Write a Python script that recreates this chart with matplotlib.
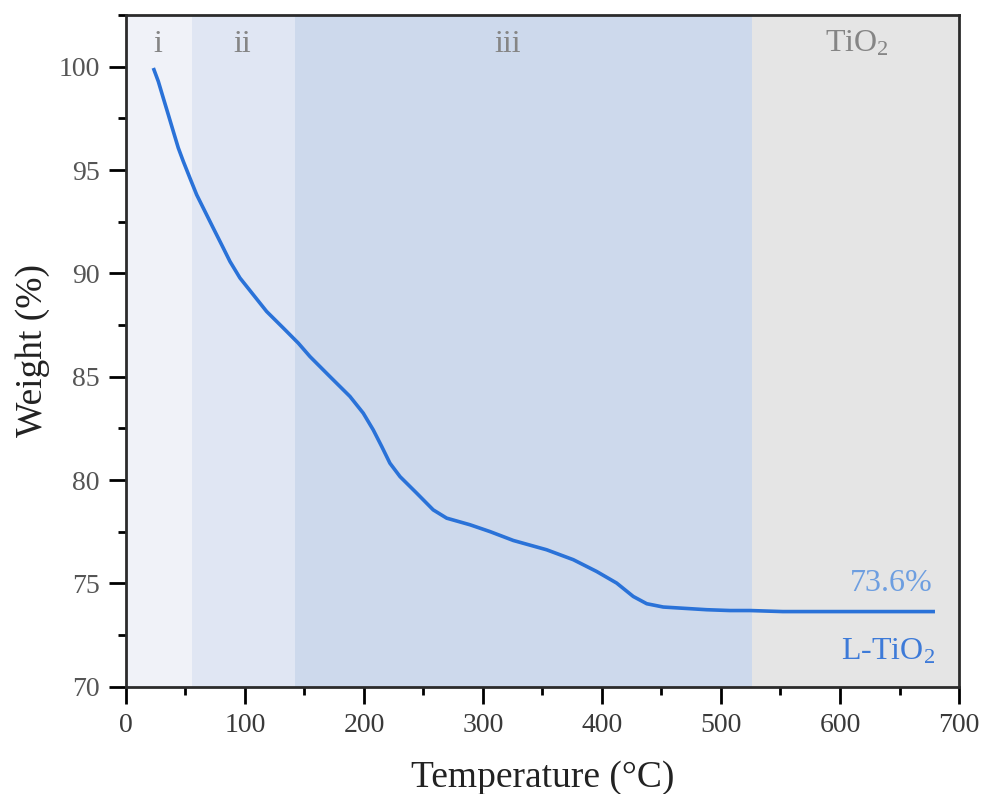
import matplotlib
matplotlib.use('Agg')
import matplotlib.pyplot as plt
from matplotlib.ticker import MultipleLocator

plt.rcParams['font.family'] = ['Liberation Serif', 'DejaVu Serif']
plt.rcParams['mathtext.default'] = 'regular'

# TGA curve
temp = [23.0, 27.2, 31.4, 35.6, 39.8, 44.0, 48.2, 53.8, 59.4, 66.4, 73.4, 80.4,
        87.4, 95.8, 107.0, 118.2, 132.2, 144.8, 154.6, 171.4, 188.2, 199.4,
        207.8, 214.9, 221.8, 230.3, 244.3, 258.2, 269.5, 289.1, 305.9, 325.5,
        353.5, 375.9, 395.5, 412.3, 426.3, 437.6, 451.5, 465.5, 488.0, 507.6,
        524.4, 552.0, 679.8]
weight = [99.94, 99.29, 98.48, 97.68, 96.87, 96.07, 95.42, 94.61, 93.81, 93.0,
          92.19, 91.39, 90.58, 89.78, 88.97, 88.16, 87.36, 86.63, 85.98, 85.01,
          84.05, 83.24, 82.43, 81.63, 80.82, 80.17, 79.37, 78.56, 78.16, 77.84,
          77.51, 77.08, 76.63, 76.15, 75.58, 75.02, 74.37, 74.02, 73.86, 73.81,
          73.73, 73.69, 73.69, 73.64, 73.64]

# stage boundaries (°C)
stage_edges = [0, 55.5, 142, 526, 700]
stage_names = ['i', 'ii', 'iii', 'TiO$_2$']
stage_label_x = [27, 98, 321, 614]
stage_colors = ['#f0f2f8', '#e0e6f3', '#cdd9ec', '#e5e5e5']

residue_label = '73.6%'
sample_label = 'L-TiO$_2$'

fig = plt.figure(figsize=(9.84, 7.94), dpi=100)
ax = fig.add_axes([0.128, 0.135, 0.8466, 0.846])

for i in range(len(stage_names)):
    ax.axvspan(stage_edges[i], stage_edges[i+1], color=stage_colors[i], lw=0, zorder=0)
    ax.text(stage_label_x[i], 101.1, stage_names[i], ha='center', va='center',
            fontsize=23, color='#858585')

ax.plot(temp, weight, color='#2a72d8', lw=2.6, zorder=3, solid_capstyle='butt')

ax.text(678, 75.0, residue_label, ha='right', va='center', fontsize=23, color='#6d9ee0')
ax.text(680, 71.7, sample_label, ha='right', va='center', fontsize=23, color='#3d7ad8')

ax.set_xlim(0, 700)
ax.set_ylim(70, 102.5)
ax.xaxis.set_major_locator(MultipleLocator(100))
ax.xaxis.set_minor_locator(MultipleLocator(50))
ax.set_yticks([70, 75, 80, 85, 90, 95, 100])
ax.yaxis.set_minor_locator(MultipleLocator(2.5))

ax.tick_params(which='major', length=12, width=2, direction='out', labelsize=20, pad=7)
ax.tick_params(axis='y', labelcolor='#555555')
ax.tick_params(axis='x', labelcolor='#3a3a3a')
ax.tick_params(which='minor', length=6, width=2, direction='out')
for s in ax.spines.values():
    s.set_linewidth(2)
    s.set_color('#2b2b2b')

ax.set_xlabel('Temperature (°C)', fontsize=27, color='#222222', labelpad=16)
ax.set_ylabel('Weight (%)', fontsize=27, color='#222222', labelpad=6)

plt.savefig('out.png', dpi=100)
